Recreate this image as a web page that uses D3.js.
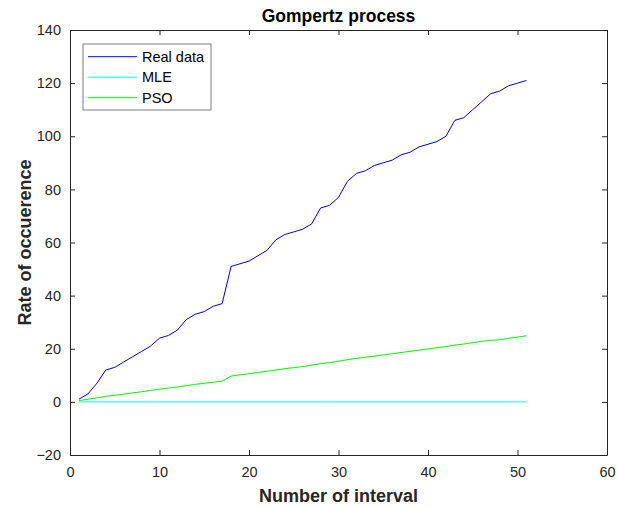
<!DOCTYPE html>
<html>
<head>
<meta charset="utf-8">
<script src="https://cdn.jsdelivr.net/npm/d3@7"></script>
<style>
  body { margin: 0; background: #fff; }
  text { font-family: "Liberation Sans", Arial, sans-serif; }
</style>
</head>
<body>
<div id="chart"></div>
<script>
// interval index 1..51
const intervals = [1,2,3,4,5,6,7,8,9,10,11,12,13,14,15,16,17,18,19,20,21,22,23,24,25,
  26,27,28,29,30,31,32,33,34,35,36,37,38,39,40,41,42,43,44,45,46,47,48,49,50,51];

const realData = [1,3,7,12,13,15,17,19,21,24,25,27,31,33,34,36,37,51,52,53,55,57,61,63,64,
  65,67,73,74,77,83,86,87,89,90,91,93,94,96,97,98,100,106,107,110,113,116,117,119,120,121];

const mle = [0,0,0,0,0,0,0,0,0,0,0,0,0,0,0,0,0,0,0,0,0,0,0,0,0,
  0,0,0,0,0,0,0,0,0,0,0,0,0,0,0,0,0,0,0,0,0,0,0,0,0,0];

const pso = [0.5,1.0,1.5,2.1,2.5,2.9,3.4,3.8,4.3,4.8,5.2,5.6,6.1,6.6,7.0,7.4,7.8,9.7,10.2,10.6,
  11.1,11.5,12.0,12.5,12.9,13.3,13.8,14.4,14.8,15.3,15.9,16.4,16.8,17.2,17.7,18.1,18.6,19.0,
  19.5,19.9,20.4,20.8,21.4,21.8,22.3,22.8,23.2,23.4,23.9,24.4,24.9];

const xTicks = [0, 10, 20, 30, 40, 50, 60];
const yTicks = [-20, 0, 20, 40, 60, 80, 100, 120, 140];

const series = [
  { name: 'Real data', values: realData, color: '#0000ff' },
  { name: 'MLE', values: mle, color: '#00ffff' },
  { name: 'PSO', values: pso, color: '#00ff00' }
];

const W = 617, H = 508;
const margin = {top: 30, right: 10, bottom: 53, left: 70};
const width = 607 - margin.left;
const height = 455 - margin.top;
const axisColor = '#262626';

const svg = d3.select('#chart')
  .append('svg')
  .attr('width', W)
  .attr('height', H);

const chart = svg.append('g')
  .attr('transform', `translate(${margin.left}, ${margin.top})`);

const xScale = d3.scaleLinear().domain([0, 60]).range([0, width]);
const yScale = d3.scaleLinear().domain([-20, 140]).range([height, 0]);

// axes (ticks pointing inward, box on all sides)
const styleAxis = g => {
  g.select('.domain').attr('stroke', axisColor);
  g.selectAll('.tick line').attr('stroke', axisColor);
  g.selectAll('.tick text')
    .attr('fill', axisColor)
    .style('font-size', '14.5px');
};

chart.append('g')
  .attr('transform', `translate(0, ${height})`)
  .call(d3.axisBottom(xScale).tickValues(xTicks).tickSize(-5).tickPadding(12).tickSizeOuter(0))
  .call(styleAxis);

chart.append('g')
  .call(d3.axisTop(xScale).tickValues(xTicks).tickSize(-5).tickFormat('').tickSizeOuter(0))
  .call(styleAxis);

chart.append('g')
  .call(d3.axisLeft(yScale).tickValues(yTicks).tickSize(-5).tickPadding(9).tickSizeOuter(0))
  .call(styleAxis);

chart.append('g')
  .attr('transform', `translate(${width}, 0)`)
  .call(d3.axisRight(yScale).tickValues(yTicks).tickSize(-5).tickFormat('').tickSizeOuter(0))
  .call(styleAxis);

// lines
const line = d3.line()
  .x((d, i) => xScale(intervals[i]))
  .y(d => yScale(d));

chart.selectAll('.series')
  .data(series)
  .enter()
  .append('path')
  .attr('class', 'series')
  .attr('fill', 'none')
  .attr('stroke', d => d.color)
  .attr('stroke-width', 1)
  .attr('d', d => line(d.values));

// title and labels
svg.append('text')
  .attr('x', margin.left + width / 2)
  .attr('y', 22)
  .attr('text-anchor', 'middle')
  .style('font-size', '17.5px')
  .style('font-weight', 'bold')
  .attr('fill', '#000')
  .text('Gompertz process');

svg.append('text')
  .attr('x', margin.left + width / 2)
  .attr('y', 502)
  .attr('text-anchor', 'middle')
  .style('font-size', '18px')
  .style('font-weight', 'bold')
  .attr('fill', axisColor)
  .text('Number of interval');

svg.append('text')
  .attr('transform', `translate(31, ${margin.top + height / 2}) rotate(-90)`)
  .attr('text-anchor', 'middle')
  .style('font-size', '18px')
  .style('font-weight', 'bold')
  .attr('fill', axisColor)
  .text('Rate of occuerence');

// legend
const legend = svg.append('g').attr('transform', 'translate(83, 44)');
legend.append('rect')
  .attr('width', 128)
  .attr('height', 66)
  .attr('fill', '#fff')
  .attr('stroke', '#7f7f7f');

const items = legend.selectAll('.item')
  .data(series)
  .enter()
  .append('g')
  .attr('class', 'item')
  .attr('transform', (d, i) => `translate(0, ${12.7 + i * 20.5})`);

items.append('line')
  .attr('x1', 5).attr('x2', 54)
  .attr('stroke', d => d.color)
  .attr('stroke-width', 1);

items.append('text')
  .attr('x', 59)
  .attr('dy', '0.35em')
  .style('font-size', '14.5px')
  .attr('fill', '#000')
  .text(d => d.name);
</script>
</body>
</html>
